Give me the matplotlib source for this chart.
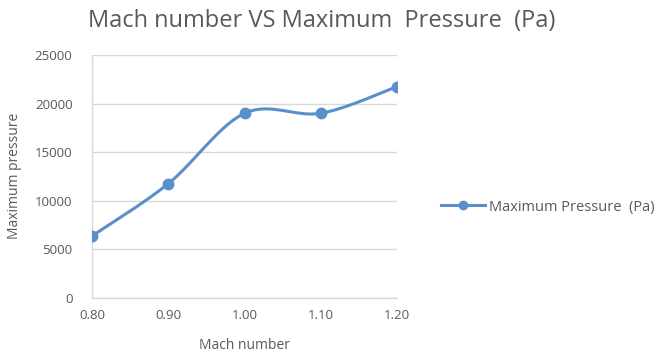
import numpy as np
import matplotlib
matplotlib.use("Agg")
import matplotlib.pyplot as plt
from matplotlib.lines import Line2D

mach = [0.80, 0.90, 1.00, 1.10, 1.20]
max_pressure = [6350, 11750, 19000, 19000, 21750]
x_ticks = [0.80, 0.90, 1.00, 1.10, 1.20]
y_ticks = [0, 5000, 10000, 15000, 20000, 25000]

TEXT = "#595959"
GRID = "#d9d9d9"
BLUE = "#5a8fcb"


def smooth_curve(xs, ys, n=40):
    """Cubic Bezier smoothing through every point (spreadsheet-style)."""
    xs = np.asarray(xs, float)
    ys = np.asarray(ys, float)
    px = np.concatenate([[xs[0]], xs, [xs[-1]]])
    py = np.concatenate([[ys[0]], ys, [ys[-1]]])
    out_x, out_y = [], []
    t = np.linspace(0, 1, n)
    for i in range(1, len(px) - 2):
        p0 = np.array([px[i], py[i]])
        p3 = np.array([px[i + 1], py[i + 1]])
        c1 = p0 + (np.array([px[i + 1], py[i + 1]]) - np.array([px[i - 1], py[i - 1]])) / 6
        c2 = p3 - (np.array([px[i + 2], py[i + 2]]) - np.array([px[i], py[i]])) / 6
        b = ((1 - t) ** 3)[:, None] * p0 + (3 * (1 - t) ** 2 * t)[:, None] * c1 \
            + (3 * (1 - t) * t ** 2)[:, None] * c2 + (t ** 3)[:, None] * p3
        out_x.extend(b[:, 0])
        out_y.extend(b[:, 1])
    return np.array(out_x), np.array(out_y)


plt.rcParams["font.family"] = ["Open Sans", "DejaVu Sans"]

fig = plt.figure(figsize=(6.58, 3.56), dpi=100)
ax = fig.add_axes([92 / 658, 1 - 297.7 / 356, (397.3 - 92) / 658, (297.7 - 55) / 356])

sx, sy = smooth_curve(mach, max_pressure)
ax.plot(sx, sy, color=BLUE, lw=2.2, solid_capstyle="round", zorder=3)
ax.plot(mach, max_pressure, "o", color=BLUE, ms=7.5, zorder=4)

ax.set_xlim(0.80, 1.20)
ax.set_ylim(0, 25000)
ax.set_xticks(x_ticks)
ax.set_xticklabels([f"{v:.2f}" for v in x_ticks])
ax.set_yticks(y_ticks)
ax.set_yticklabels([str(v) for v in y_ticks])
ax.tick_params(length=0, labelsize=9.5, colors=TEXT)
ax.tick_params(axis="y", pad=14)
ax.tick_params(axis="x", pad=8)
ax.grid(axis="y", color=GRID, lw=1)
ax.set_axisbelow(True)
for s in ["top", "right"]:
    ax.spines[s].set_visible(False)
for s in ["left", "bottom"]:
    ax.spines[s].set_color(GRID)
    ax.spines[s].set_linewidth(1)

ax.set_xlabel("Mach number", fontsize=10, color=TEXT, labelpad=12)
ax.set_ylabel("Maximum pressure", fontsize=10, color=TEXT, labelpad=9)

fig.text(322 / 658, 1 - 21 / 356, "Mach number VS Maximum  Pressure  (Pa)",
         ha="center", va="center", fontsize=17, color=TEXT)

handle = Line2D([], [], color=BLUE, lw=2.2, marker="o", ms=6)
fig.legend([handle], ["Maximum Pressure  (Pa)"], loc="center left",
           bbox_to_anchor=(428 / 658, 1 - 207 / 356), frameon=False,
           fontsize=10.5, labelcolor=TEXT, handlelength=3, handletextpad=0.3)

fig.savefig("out.png", dpi=100, facecolor="white")
